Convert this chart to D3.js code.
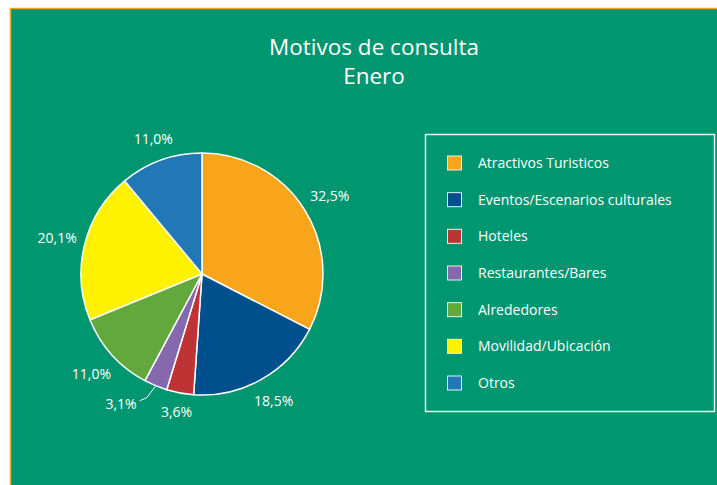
<!DOCTYPE html>
<html>
<head>
<meta charset="utf-8">
<script src="https://cdn.jsdelivr.net/npm/d3@7"></script>
<style>
body { margin: 0; background: #fff; }
text { font-family: "Open Sans", "Noto Sans", sans-serif; fill: #fff; }
</style>
</head>
<body>
<svg width="717" height="485"></svg>
<script>
var categories = ["Atractivos Turisticos", "Eventos/Escenarios culturales", "Hoteles", "Restaurantes/Bares", "Alrededores", "Movilidad/Ubicación", "Otros"];
var values = [32.5, 18.5, 3.6, 3.1, 11.0, 20.1, 11.0];
var colors = ["#f9a51b", "#00508e", "#be3333", "#8568ad", "#63a83c", "#fff200", "#2277b6"];
var title = ["Motivos de consulta", "Enero"];

var svg = d3.select("svg"),
	width = +svg.attr("width"),
	height = +svg.attr("height");

var locale = d3.formatLocale({decimal: ",", thousands: ".", grouping: [3], currency: ["", "€"]}),
	fmt = locale.format(".1f");

svg.append("rect").attr("x", 10.5).attr("y", 8.5).attr("width", width).attr("height", height)
	.attr("fill", "#009670").attr("stroke", "#f0a623").attr("stroke-width", 1.5);

svg.append("g").selectAll("text").data(title).enter().append("text")
	.attr("x", 374).attr("y", function(d, i) { return 55 + i * 29 })
	.attr("text-anchor", "middle").style("font-size", "22.5px").text(function(d) { return d });

var cx = 202, cy = 274, r = 121;
var pie = d3.pie().sort(null).value(function(d) { return d.v });
var arc = d3.arc().innerRadius(0).outerRadius(r);
var data = values.map(function(v, i) { return {v: v, name: categories[i], color: colors[i]} });
var arcs = pie(data);

var g = svg.append("g").attr("transform", "translate(" + cx + "," + cy + ")");
g.selectAll("path").data(arcs).enter().append("path")
	.attr("d", arc).attr("fill", function(d) { return d.data.color })
	.attr("stroke", "#fff").attr("stroke-width", 1.5);

// labels outside the slices
var lab = g.append("g").selectAll("g").data(arcs).enter().append("g");
lab.each(function(d) {
	var a = (d.startAngle + d.endAngle) / 2,
		ux = Math.sin(a), uy = -Math.cos(a),
		el = d3.select(this);
	var t = el.append("text").style("font-size", "14px").attr("text-anchor", "middle")
		.attr("dy", "0.35em").text(fmt(d.data.v) + "%");
	var bb = t.node().getBBox();
	if (d.data.v < 3.5) {
		var p0 = [ux * (r + 1), uy * (r + 1)],
			p1 = [ux * (r + 13) - 4, uy * (r + 13)],
			p2 = [p1[0] - 7, p1[1] + 3];
		el.append("path").attr("d", d3.line()([p0, p1, p2]))
			.attr("fill", "none").attr("stroke", "#fff").attr("stroke-width", 1);
		t.attr("text-anchor", "end").attr("x", p2[0] - 3).attr("y", p2[1] + 3);
	} else {
		var dist = r + 7 + Math.abs(ux) * bb.width / 2 + Math.abs(uy) * bb.height / 2;
		t.attr("x", ux * dist).attr("y", uy * dist);
	}
});

// legend
var lx = 425.5, ly = 134.5;
svg.append("rect").attr("x", lx).attr("y", ly).attr("width", 289).attr("height", 277)
	.attr("fill", "none").attr("stroke", "#e8f4ee").attr("stroke-width", 1.5);
var y = d3.scalePoint().domain(categories).range([163, 383]);
var leg = svg.append("g").selectAll("g").data(data).enter().append("g")
	.attr("transform", function(d) { return "translate(447," + y(d.name) + ")" });
leg.append("rect").attr("x", 0.5).attr("y", -7).attr("width", 14).attr("height", 14)
	.attr("fill", function(d) { return d.color }).attr("stroke", "#e8f4ee").attr("stroke-width", 1);
leg.append("text").attr("x", 31).attr("dy", "0.35em").style("font-size", "14px")
	.text(function(d) { return d.name });
</script>
</body>
</html>
